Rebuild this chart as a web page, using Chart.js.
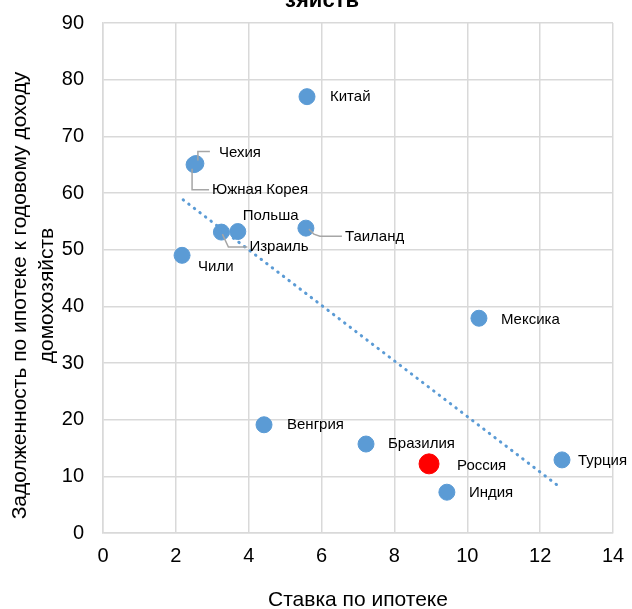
<!DOCTYPE html>
<html>
<head>
<meta charset="utf-8">
<script src="https://cdn.jsdelivr.net/npm/chart.js@4"></script>
<style>
  html, body { margin: 0; padding: 0; background: #fff; }
  #wrap { width: 632px; height: 609px; position: relative; overflow: hidden; }
</style>
</head>
<body>
<div id="wrap"><canvas id="chart" width="632" height="609"></canvas></div>
<script>
// данные
var countries = ['Китай', 'Чехия', 'Южная Корея', 'Польша', 'Израиль', 'Таиланд', 'Чили', 'Мексика', 'Венгрия', 'Бразилия', 'Турция', 'Индия'];
var rates = [5.6, 2.55, 2.5, 3.7, 3.25, 5.57, 2.17, 10.32, 4.42, 7.22, 12.6, 9.44];
var debt = [77, 65.2, 65, 53.2, 53.1, 53.8, 49, 37.9, 19.1, 15.7, 12.9, 7.2];

var russiaLabel = ['Россия'];
var russiaRate = [8.95];
var russiaDebt = [12.2];

// линия тренда (концы)
var trendX = [2.2, 12.5];
var trendY = [58.8, 8.3];

var xTicks = [0, 2, 4, 6, 8, 10, 12, 14];
var yTicks = [0, 10, 20, 30, 40, 50, 60, 70, 80, 90];

// подписи: сдвиг текста и выноски от точки
var labelOffsets = {
    'Китай': { dx: 23, dy: 0 },
    'Чехия': { dx: 23, dy: -11, lead: [[2, -3], [2, -12], [14, -12]] },
    'Южная Корея': { dx: 18, dy: 25, lead: [[-2, 4], [-2, 25], [15, 25]] },
    'Польша': { dx: 5, dy: -16 },
    'Израиль': { dx: 28, dy: 15, lead: [[1, 2], [7, 15], [26, 15]] },
    'Таиланд': { dx: 39, dy: 9, lead: [[3, 1], [8, 6], [14, 8], [36, 8]] },
    'Чили': { dx: 16, dy: 12 },
    'Мексика': { dx: 22, dy: 2 },
    'Венгрия': { dx: 23, dy: 0 },
    'Бразилия': { dx: 22, dy: 0 },
    'Россия': { dx: 28, dy: 2 },
    'Турция': { dx: 16, dy: 1 },
    'Индия': { dx: 22, dy: 1 }
};

var FONT = "'Liberation Sans', Arial, sans-serif";
var SHIFT = '\u00A0\u00A0\u00A0\u00A0\u00A0\u00A0'; // сдвиг подписи оси вниз

var pointLabels = {
    id: 'pointLabels',
    afterDatasetsDraw: function(chart) {
        var ctx = chart.ctx;
        ctx.save();
        [1, 2].forEach(function(di) {
            var ds = chart.data.datasets[di];
            var meta = chart.getDatasetMeta(di);
            meta.data.forEach(function(el, i) {
                var name = ds.names[i];
                var o = labelOffsets[name] || { dx: 20, dy: 0 };
                if (o.lead) {
                    ctx.strokeStyle = '#a6a6a6';
                    ctx.lineWidth = 1.5;
                    ctx.beginPath();
                    o.lead.forEach(function(p, k) {
                        if (k === 0) ctx.moveTo(el.x + p[0], el.y + p[1]);
                        else ctx.lineTo(el.x + p[0], el.y + p[1]);
                    });
                    ctx.stroke();
                }
                ctx.fillStyle = '#000';
                ctx.font = '15px ' + FONT;
                ctx.textAlign = 'left';
                ctx.textBaseline = 'middle';
                ctx.fillText(name, el.x + o.dx, el.y + o.dy);
            });
        });
        // обрезанный заголовок
        ctx.font = 'bold 22px ' + FONT;
        ctx.textAlign = 'center';
        ctx.textBaseline = 'alphabetic';
        ctx.fillStyle = '#000';
        ctx.fillText('зяйств', 322, 7);
        ctx.restore();
    }
};

new Chart(document.getElementById('chart'), {
    type: 'scatter',
    data: {
        datasets: [{
            type: 'line',
            label: 'Тренд',
            data: trendX.map(function(x, i) { return { x: x, y: trendY[i] }; }),
            borderColor: '#5b9bd5',
            borderWidth: 3,
            borderDash: [0.5, 6.5],
            borderCapStyle: 'round',
            pointRadius: 0,
            fill: false
        }, {
            label: 'Страны',
            names: countries,
            data: rates.map(function(x, i) { return { x: x, y: debt[i] }; }),
            backgroundColor: '#5b9bd5',
            borderColor: '#5b9bd5',
            pointRadius: 8,
            pointHoverRadius: 8
        }, {
            label: 'Россия',
            names: russiaLabel,
            data: russiaRate.map(function(x, i) { return { x: x, y: russiaDebt[i] }; }),
            backgroundColor: '#ff0000',
            borderColor: '#ff0000',
            pointRadius: 10,
            pointHoverRadius: 10
        }]
    },
    options: {
        responsive: false,
        animation: false,
        devicePixelRatio: 1,
        layout: { padding: { top: 23, right: 19, left: 0, bottom: 0 } },
        plugins: {
            legend: { display: false },
            tooltip: { enabled: false },
            title: { display: false }
        },
        scales: {
            x: {
                type: 'linear',
                min: 0, max: 14,
                afterBuildTicks: function(s) { s.ticks = xTicks.map(function(v) { return { value: v }; }); },
                afterFit: function(s) { s.height = 76; s.paddingLeft = 0; s.paddingRight = 0; },
                grid: { color: '#d9d9d9', lineWidth: 1.5, drawTicks: false },
                border: { color: '#d9d9d9', width: 1.5 },
                ticks: { color: '#000', padding: 11, maxRotation: 0, autoSkip: false, font: { family: FONT, size: 20 } },
                title: {
                    display: true,
                    text: 'Ставка по ипотеке',
                    color: '#000',
                    padding: { top: 0, bottom: -4 },
                    font: { family: FONT, size: 21 }
                }
            },
            y: {
                min: 0, max: 90,
                afterBuildTicks: function(s) { s.ticks = yTicks.map(function(v) { return { value: v }; }); },
                afterFit: function(s) { s.width = 103; s.paddingTop = 0; s.paddingBottom = 0; },
                grid: { color: '#d9d9d9', lineWidth: 1.5, drawTicks: false },
                border: { color: '#d9d9d9', width: 1.5 },
                ticks: { color: '#000', padding: 19, autoSkip: false, font: { family: FONT, size: 20 } },
                title: {
                    display: true,
                    text: ['Задолженность по ипотеке к годовому доходу' + SHIFT, 'домохозяйств' + SHIFT],
                    color: '#000',
                    padding: { top: 7, bottom: 0 },
                    font: { family: FONT, size: 21, lineHeight: 1.28 }
                }
            }
        }
    },
    plugins: [pointLabels]
});
</script>
</body>
</html>
